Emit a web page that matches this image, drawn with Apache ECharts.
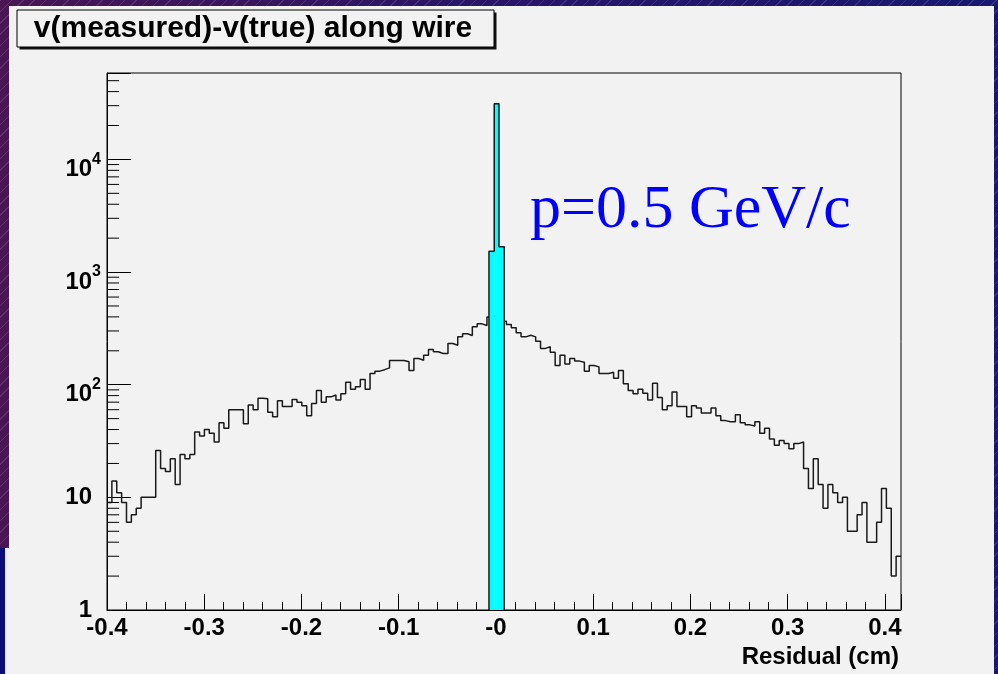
<!DOCTYPE html>
<html>
<head>
<meta charset="utf-8">
<script src="https://cdn.jsdelivr.net/npm/echarts@6/dist/echarts.min.js"></script>
<style>
  html, body { margin:0; padding:0; }
  body {
    width:998px; height:674px; overflow:hidden; position:relative;
    background:
      repeating-linear-gradient(135deg, rgba(160,150,230,0.22) 0 1px, transparent 1px 8px),
      linear-gradient(90deg, #4a1552 0%, #2a1566 45%, #171870 100%);
  }
  #panel { position:absolute; left:9px; top:6px; width:985px; height:668px; background:#f2f2f2; }
  #strip { position:absolute; left:0; top:548px; width:9px; height:126px;
           background: linear-gradient(90deg, #0c0c78 0 5px, #e8e8ff 5px 7px, #f2f2f2 7px); }
  #chart { position:absolute; left:0; top:0; width:998px; height:674px; }
</style>
</head>
<body>
<div id="panel"></div>
<div id="strip"></div>
<div id="chart"></div>
<script>
// ---- data ----
const xMin = -0.4;
const xMax = 0.4165;
const yMin = 1;
const yMax = 58500;

// black histogram: counts per bin, uniform bins from xMin to xMax
const counts = [
  9, 14, 11, 9, 6, 7, 8, 10, 10, 10,
  26, 18, 17, 22, 13, 24, 22, 24, 38, 35,
  40, 37, 31, 46, 41, 60, 60, 60, 45, 66,
  60, 76, 75, 57, 52, 72, 64, 64, 74, 70,
  65, 53, 68, 89, 70, 78, 81, 73, 83, 105,
  91, 96, 111, 91, 126, 132, 136, 141, 164, 164,
  164, 160, 134, 171, 165, 183, 205, 196, 189, 189,
  232, 224, 266, 283, 273, 327, 347, 335, 400, 410,
  390, 366, 342, 320, 289, 266, 275, 266, 243, 210,
  217, 194, 148, 183, 153, 171, 162, 158, 132, 148,
  144, 126, 126, 129, 114, 134, 102, 89, 83, 91,
  84, 73, 103, 77, 60, 65, 86, 64, 64, 52,
  65, 62, 56, 56, 62, 53, 48, 47, 47, 54,
  46, 44, 43, 47, 37, 41, 33, 29, 32, 30,
  27, 30, 31, 18, 12, 22, 13, 8, 13, 11,
  9, 10, 5, 5, 7, 9, 4, 4, 6, 12,
  8, 2, 3
];

// cyan histogram (bin edges and counts)
const cyanEdges = [-0.0072, -0.0018, 0.0031, 0.0085];
const cyanCounts = [1530, 31200, 1675];

// tick labels
const xTickLabels = ['-0.4', '-0.3', '-0.2', '-0.1', '-0', '0.1', '0.2', '0.3', '0.4'];
const yTickBases = ['1', '10', '10', '10', '10'];
const yTickExps  = ['', '', '2', '3', '4'];
const yMinorMultipliers = [2, 3, 4, 5, 6, 7, 8, 9];

const titleText = 'v(measured)-v(true) along wire';
const xAxisTitle = 'Residual (cm)';
const annotation = 'p=0.5 GeV/c';

// ---- build series data from the arrays ----
const binW = (xMax - xMin) / counts.length;
const blackPts = [];
counts.forEach((c, i) => {
  blackPts.push([xMin + i * binW, c]);
  blackPts.push([xMin + (i + 1) * binW, c]);
});

const cyanBars = cyanCounts.map((c, i) => [cyanEdges[i], cyanEdges[i + 1], c]);
const cyanOutline = [[cyanEdges[0], yMin]];
cyanCounts.forEach((c, i) => {
  cyanOutline.push([cyanEdges[i], c]);
  cyanOutline.push([cyanEdges[i + 1], c]);
});
cyanOutline.push([cyanEdges[cyanEdges.length - 1], yMin]);

const yMinorTicks = [];
for (let e = 0; e <= 4; e++) {
  yMinorMultipliers.forEach(m => {
    const v = m * Math.pow(10, e);
    if (v < yMax) yMinorTicks.push([xMin, v]);
  });
}

const FONT = 'Liberation Sans, Arial, Helvetica, sans-serif';

const chart = echarts.init(document.getElementById('chart'), null, { renderer: 'canvas' });

const option = {
  animation: false,
  backgroundColor: 'transparent',
  grid: {
    left: 107, right: 97, top: 73, bottom: 64,
    show: true, borderColor: '#000', borderWidth: 1, backgroundColor: 'transparent',
    containLabel: false, outerBoundsMode: 'none'
  },
  xAxis: {
    type: 'value', min: xMin, max: xMax, interval: 0.1,
    axisLine: { show: true, onZero: false, lineStyle: { color: '#000', width: 1 } },
    axisTick: { show: true, inside: true, length: 16, lineStyle: { color: '#000', width: 1 } },
    minorTick: { show: true, splitNumber: 5, length: 8, lineStyle: { color: '#000', width: 1 } },
    splitLine: { show: false },
    minorSplitLine: { show: false },
    axisLabel: {
      show: true, margin: 6, color: '#000', fontSize: 24, fontWeight: 'bold', fontFamily: FONT,
      lineHeight: 24, hideOverlap: false, showMinLabel: true, showMaxLabel: true,
      formatter: function (v) {
        const idx = Math.round((v - xMin) / 0.1);
        if (Math.abs(v - (xMin + idx * 0.1)) > 1e-6) return '';
        return xTickLabels[idx] || '';
      }
    }
  },
  yAxis: {
    type: 'log', logBase: 10, min: yMin, max: yMax, position: 'left',
    axisLine: { show: true, onZero: false, lineStyle: { color: '#000', width: 1 } },
    axisTick: { show: true, inside: true, length: 24, lineStyle: { color: '#000', width: 1 } },
    splitLine: { show: false },
    axisLabel: {
      show: true, margin: 6, color: '#000', hideOverlap: false,
      formatter: function (v) {
        const lg = Math.log10(v);
        const e = Math.round(lg);
        if (Math.abs(lg - e) > 1e-6 || e < 0 || e >= yTickBases.length) return '';
        if (yTickExps[e]) return '{b|' + yTickBases[e] + '}{s|' + yTickExps[e] + '}';
        return '{b|' + yTickBases[e] + '}{p|}';
      },
      rich: {
        b: { fontSize: 24, fontWeight: 'bold', fontFamily: FONT, color: '#000', lineHeight: 24, verticalAlign: 'bottom' },
        s: { fontSize: 16, fontWeight: 'bold', fontFamily: FONT, color: '#000', lineHeight: 44, verticalAlign: 'middle' },
        p: { width: 9, lineHeight: 24 }
      }
    }
  },
  series: [
    {
      name: 'minorY', type: 'custom', silent: true, z: 5,
      data: yMinorTicks,
      encode: { x: 0, y: 1 },
      renderItem: function (params, api) {
        const p = api.coord([api.value(0), api.value(1)]);
        return {
          type: 'line',
          shape: { x1: p[0], y1: p[1], x2: p[0] + 12, y2: p[1] },
          style: { stroke: '#000', lineWidth: 1 }
        };
      }
    },
    {
      name: 'all', type: 'line', data: blackPts, symbol: 'none', z: 2,
      lineStyle: { color: '#1a1a1a', width: 1.5 }, clip: true
    },
    {
      name: 'peakFill', type: 'custom', silent: true, z: 3,
      data: cyanBars,
      encode: { x: [0, 1], y: 2 },
      renderItem: function (params, api) {
        const p0 = api.coord([api.value(0), api.value(2)]);
        const p1 = api.coord([api.value(1), yMin]);
        return {
          type: 'rect',
          shape: { x: p0[0], y: p0[1], width: p1[0] - p0[0], height: p1[1] - p0[1] },
          style: { fill: '#00ffff', stroke: null }
        };
      }
    },
    {
      name: 'peakOutline', type: 'line', data: cyanOutline, symbol: 'none', z: 4,
      lineStyle: { color: '#1a1a1a', width: 1.5 }, clip: true
    }
  ],
  graphic: [
    { type: 'rect', z: 10, shape: { x: 19.5, y: 12.5, width: 477, height: 37 }, style: { fill: '#111' } },
    { type: 'rect', z: 11, shape: { x: 17, y: 10, width: 477, height: 37 }, style: { fill: '#f2f2f2', stroke: '#000', lineWidth: 1 } },
    { type: 'text', z: 12, style: { x: 253, y: 29, text: titleText, font: 'bold 30px ' + FONT, fill: '#000', textAlign: 'center', textVerticalAlign: 'middle' } },
    { type: 'text', z: 12, style: { x: 899, y: 657, text: xAxisTitle, font: 'bold 24px ' + FONT, fill: '#000', textAlign: 'right', textVerticalAlign: 'middle' } },
    { type: 'text', z: 12, style: { x: 530, y: 211, text: annotation, font: '62px "Liberation Serif", "Times New Roman", serif', fill: '#0000ff', textAlign: 'left', textVerticalAlign: 'middle' } }
  ]
};

chart.setOption(option);
</script>
</body>
</html>
